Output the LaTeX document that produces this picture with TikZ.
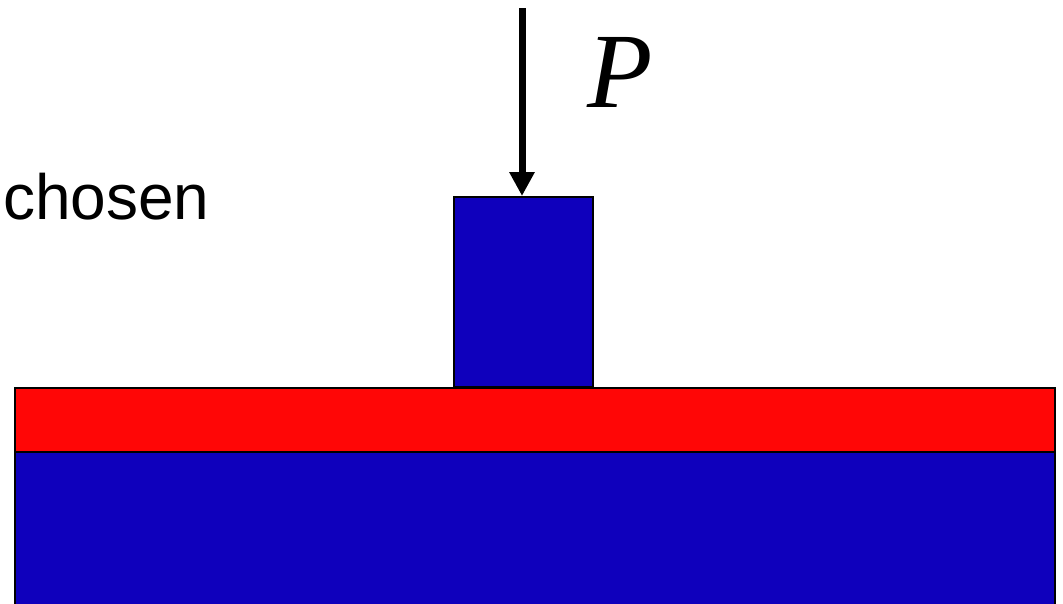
\documentclass[tikz,border=0pt]{standalone}
\usepackage{fontspec}
\setmainfont{Liberation Serif}
\newfontfamily\arialfont{Liberation Sans}
\usetikzlibrary{arrows.meta}
\definecolor{layerblue}{RGB}{15,0,188}
\definecolor{layerred}{RGB}{255,6,6}
\tikzset{
  layer/.style={draw=black, line width=2pt},
  loadarrow/.style={line width=7pt, -{Triangle[length=24pt,width=24pt]}},
}
\begin{document}
\begin{tikzpicture}[x=1pt,y=-1pt]
\clip (0,0) rectangle (1063,603);
\fill[white] (0,0) rectangle (1063,603);
% substrate and film
\draw[layer, fill=layerblue] (15,452) rectangle (1055,620);
\draw[layer, fill=layerred] (15,388) rectangle (1055,452);
% punch
\node[layer, fill=layerblue, minimum width=139pt, minimum height=190pt, inner sep=0pt, anchor=south west] (punch) at (453,388) {};
% load
\coordinate (ptop) at (522,8);
\draw[loadarrow] (ptop) -- (punch.north -| ptop);
\node[anchor=base west, inner sep=0pt, font=\fontsize{107}{107}\selectfont\itshape] (plabel) at (587,107) {P};
\node[anchor=base west, inner sep=0pt, font=\arialfont\fontsize{64}{64}\selectfont] (chosen) at (3,219) {chosen};
\end{tikzpicture}
\end{document}
